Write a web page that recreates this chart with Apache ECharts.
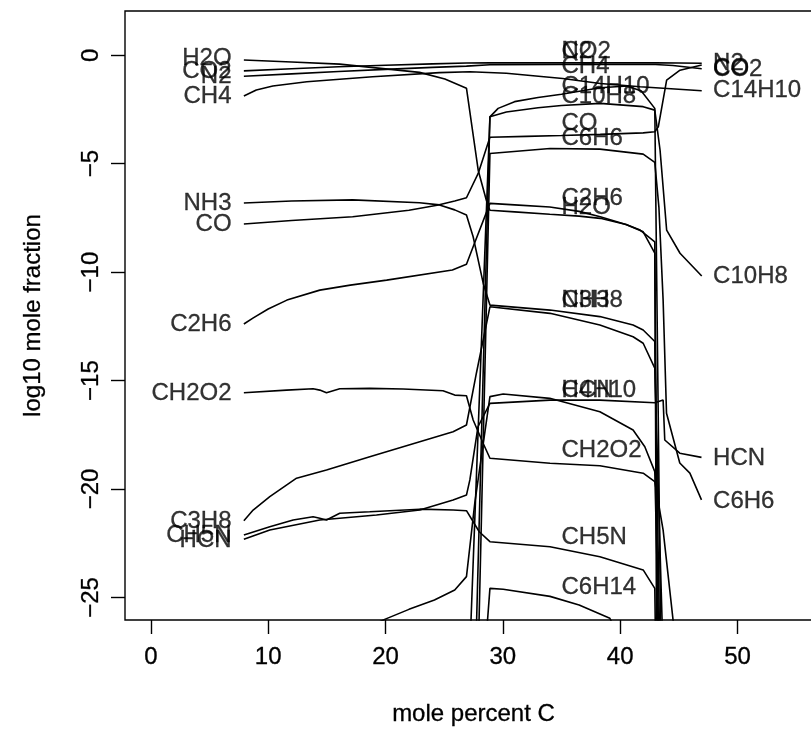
<!DOCTYPE html>
<html>
<head>
<meta charset="utf-8">
<script src="https://cdn.jsdelivr.net/npm/echarts@6/dist/echarts.min.js"></script>
<style>html,body{margin:0;padding:0;background:#fff}#c{width:811px;height:735px}</style>
</head>
<body>
<div id="c"></div>
<script>
// tick values
const xTicks = [0, 10, 20, 30, 40, 50];
const yTicks = [-25, -20, -15, -10, -5, 0];

// curves: [mole percent C, log10 mole fraction]
const H2O = [[7.93,-0.22],[12,-0.31],[16.1,-0.41],[20,-0.63],[22.9,-0.79],[25.06,-1.1],[26.9,-1.52],[27.9,-5.3],[28.6,-6.7],[28.9,-7.15],[31,-7.22],[34,-7.33],[36.5,-7.42],[38.3,-7.52],[40.5,-7.8],[41.96,-8.14],[42.95,-9.12],[43.2,-26.6]];
const CO2 = [[7.93,-0.72],[12,-0.62],[16,-0.53],[20,-0.46],[24,-0.4],[26.9,-0.36],[28.9,-0.35],[35,-0.35],[40,-0.35],[43,-0.35],[45,-0.36],[46.95,-0.37]];
const N2 = [[7.93,-0.97],[12,-0.86],[16,-0.75],[20,-0.65],[24,-0.56],[26.9,-0.5],[28.9,-0.44],[35,-0.43],[40,-0.43],[43,-0.43],[44.5,-0.47],[46.95,-0.62]];
const CH4 = [[7.93,-1.88],[8.99,-1.6],[10.4,-1.42],[13.3,-1.22],[18.9,-0.99],[24.6,-0.8],[27.2,-0.76],[30.3,-0.83],[35.1,-1.07],[38.3,-1.3],[41.7,-1.45],[44,-1.53],[46.95,-1.64]];
const NH3 = [[7.93,-6.81],[12,-6.72],[17.2,-6.67],[22.9,-6.8],[24.6,-6.9],[25.9,-7.13],[26.9,-7.37],[27.47,-8.37],[28.33,-10.52],[28.9,-11.52],[34.02,-11.75],[38.27,-12.05],[41.1,-12.44],[41.96,-12.67],[42.95,-13.2],[43.35,-26.6]];
const CO = [[7.93,-7.78],[12,-7.62],[17.2,-7.45],[22,-7.15],[24.4,-6.92],[25.9,-6.72],[26.9,-6.57],[27.9,-5.45],[28.9,-3.78],[32,-3.74],[35,-3.7],[38.3,-3.65],[41.96,-3.58],[42.95,-3.53],[43.25,-3.3],[43.96,-1.15],[45.1,-0.69],[46.95,-0.45]];
const C2H6 = [[7.93,-12.39],[8.7,-12.12],[10,-11.7],[11.6,-11.29],[14.4,-10.83],[17,-10.6],[20.1,-10.37],[25.7,-9.9],[26.9,-9.64],[27.47,-8.83],[28.9,-6.83],[31,-6.9],[34,-7.0],[36.5,-7.2],[38.3,-7.45],[40.5,-7.8],[41.7,-8.06],[42.95,-8.6],[43.1,-26.6]];
const CH2O2 = [[7.93,-15.56],[11.57,-15.44],[13.83,-15.38],[14.4,-15.44],[14.97,-15.56],[16.1,-15.38],[18.66,-15.36],[21.5,-15.39],[24.9,-15.47],[25.9,-15.67],[26.9,-15.7],[27.47,-16.82],[28.33,-17.9],[28.9,-18.58],[34.02,-18.81],[38.27,-18.93],[41.96,-19.27],[42.95,-19.66],[43.66,-21.9],[44.5,-26.0],[44.6,-26.6]];
const C3H8 = [[7.93,-21.46],[8.72,-20.97],[10.14,-20.35],[12.42,-19.5],[14.97,-19.12],[18.66,-18.51],[22.92,-17.82],[25.76,-17.36],[26.9,-17.05],[27.75,-14.65],[28.9,-11.6],[34.02,-11.9],[38.27,-12.44],[41.1,-12.98],[41.96,-13.28],[42.95,-14.43],[43.6,-26.6]];
const CH5N = [[7.93,-22.12],[10.14,-21.74],[12.13,-21.43],[13.83,-21.28],[14.4,-21.35],[14.97,-21.43],[16.1,-21.12],[18.66,-21.05],[22.92,-20.93],[25.76,-20.97],[26.9,-21.0],[27.99,-21.97],[28.9,-22.43],[34.02,-22.66],[38.27,-23.12],[41.96,-23.73],[42.95,-24.58],[43.0,-26.6]];
const HCN = [[7.93,-22.32],[10.14,-21.89],[14.4,-21.43],[19.23,-21.2],[22.92,-20.97],[25.76,-20.51],[26.9,-20.28],[27.19,-19.58],[27.88,-17.13],[28.9,-16.05],[34.02,-15.9],[38.27,-15.9],[42.95,-16.02],[43.66,-15.9],[43.8,-17.74],[45.08,-18.35],[46.93,-18.54]];
const C4H10 = [[18.0,-26.5],[19.98,-26.0],[22,-25.55],[24.17,-25.12],[25.9,-24.66],[26.9,-24.04],[27.61,-20.65],[27.89,-19.58],[28.9,-15.74],[30.03,-15.62],[34.0,-15.82],[38.27,-16.44],[41.1,-17.28],[42.1,-18.05],[42.95,-19.2],[43.28,-26.6]];
const C14H10 = [[27.25,-26.6],[28.9,-2.84],[29.6,-2.45],[31,-2.14],[33,-1.95],[35,-1.8],[38.3,-1.5],[40.6,-1.42],[41.8,-1.65],[42.95,-2.45],[43.45,-26.6]];
const C10H8 = [[27.74,-26.6],[28.9,-2.84],[30.3,-2.62],[33,-2.42],[35,-2.32],[38.3,-2.22],[41.96,-2.37],[42.95,-2.53],[43.4,-4.38],[43.96,-8.06],[45.1,-9.13],[46.95,-10.18]];
const C6H6 = [[27.95,-26.6],[28.9,-4.53],[34.02,-4.3],[38.27,-4.33],[41.96,-4.56],[42.95,-4.94],[43.3,-7.0],[43.66,-11.29],[43.95,-16.51],[45.08,-18.8],[45.94,-19.27],[46.93,-20.5]];
const C6H14 = [[28.62,-26.6],[28.9,-24.58],[30.03,-24.62],[34.02,-24.95],[36.5,-25.35],[39.12,-25.96],[39.5,-26.4]];

// species labels: [text, x, y]
const labelsLeft = [["H2O",6.88,-0.16],["CO2",6.88,-0.76],["N2",6.88,-0.99],["CH4",6.88,-1.91],["NH3",6.88,-6.85],["CO",6.88,-7.8],["C2H6",6.88,-12.4],["CH2O2",6.88,-15.59],["C3H8",6.88,-21.47],["CH5N",6.88,-22.12],["HCN",6.88,-22.35]];
const labelsMid = [["CO2",35.0,0.16],["N2",35.0,0.16],["CH4",35.0,-0.51],["C14H10",35.0,-1.45],["C10H8",35.0,-1.91],["CO",35.0,-3.14],["C6H6",35.0,-3.83],["C2H6",35.0,-6.62],["H2O",35.0,-7.0],["NH3",35.0,-11.29],["C3H8",35.0,-11.29],["HCN",35.0,-15.45],["C4H10",35.0,-15.45],["CH2O2",35.0,-18.22],["CH5N",35.0,-22.22],["C6H14",35.0,-24.53]];
const labelsRight = [["N2",47.92,-0.37],["CO2",47.92,-0.64],["CO",47.92,-0.6],["C14H10",47.92,-1.64],["C10H8",47.92,-10.21],["HCN",47.92,-18.58],["C6H6",47.92,-20.57]];

const curves = {H2O, CO2, N2, CH4, NH3, CO, C2H6, CH2O2, C3H8, CH5N, HCN, C4H10, C14H10, C10H8, C6H6, C6H14};

const FONT = 'Liberation Sans, Arial, Helvetica, sans-serif';
const chart = echarts.init(document.getElementById('c'), null, {renderer: 'canvas'});

const lineSeries = Object.keys(curves).map(k => ({
  name: k, type: 'line', data: curves[k], showSymbol: false, symbol: 'none',
  smooth: false, clip: true, silent: true,
  lineStyle: {color: '#000', width: 1.6}
}));

const TXT = {color: '#000', fontSize: 24, fontFamily: FONT, textBorderColor: '#000', textBorderWidth: 0.3};

function labelSeries(name, arr, pos) {
  return {
    name, type: 'scatter', symbolSize: 0, silent: true, clip: false, z: 5,
    data: arr.map(d => ({name: d[0], value: [d[1], d[2]]})),
    label: Object.assign({show: true, position: pos, distance: 0, formatter: p => p.name}, TXT)
  };
}

const minus = v => String(v).replace('-', '\u2212');

chart.setOption({
  animation: false,
  backgroundColor: '#fff',
  grid: {left: 125, top: 11, right: -11, bottom: 115, show: true,
    outerBoundsMode: 'none', containLabel: false,
    borderColor: '#000', borderWidth: 1.4, backgroundColor: 'transparent'},
  xAxis: {
    type: 'value', min: -2.2, max: 57.2,
    axisLine: {show: false, onZero: false}, splitLine: {show: false},
    axisTick: {show: true, length: 14, customValues: xTicks, lineStyle: {color: '#000', width: 1.4}},
    axisLabel: Object.assign({customValues: xTicks, margin: 25, formatter: minus}, TXT),
    name: 'mole percent C', nameLocation: 'middle', nameGap: 82,
    nameTextStyle: TXT
  },
  yAxis: {
    type: 'value', min: -26.04, max: 2.04,
    axisLine: {show: false, onZero: false}, splitLine: {show: false},
    axisTick: {show: true, length: 14, customValues: yTicks, lineStyle: {color: '#000', width: 1.4}},
    axisLabel: Object.assign({customValues: yTicks, rotate: 90, margin: 22, formatter: minus}, TXT),
    name: 'log10 mole fraction', nameLocation: 'middle', nameGap: 80,
    nameTextStyle: TXT
  },
  series: lineSeries.concat([
    labelSeries('labelsLeft', labelsLeft, 'left'),
    labelSeries('labelsMid', labelsMid, 'right'),
    labelSeries('labelsRight', labelsRight, 'right')
  ])
});
</script>
</body>
</html>
